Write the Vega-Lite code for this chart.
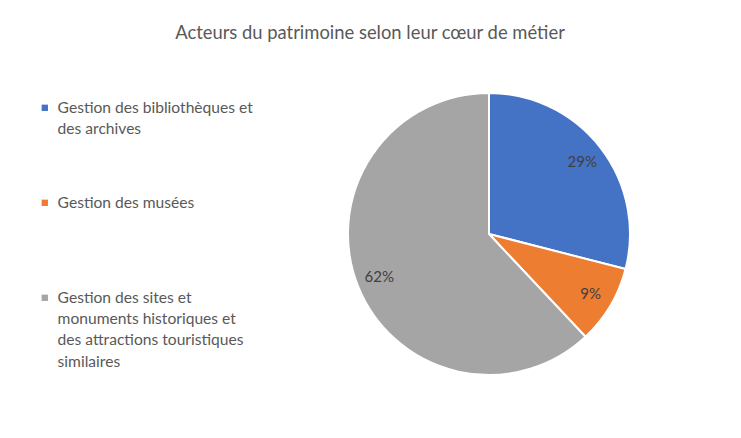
{
  "$schema": "https://vega.github.io/schema/vega-lite/v6.json",
  "width": 504,
  "height": 348,
  "autosize": {"type": "none"},
  "padding": {"left": 237, "top": 60, "right": 0, "bottom": 30},
  "background": "white",
  "title": {
    "text": "Acteurs du patrimoine selon leur cœur de métier",
    "anchor": "middle",
    "dx": -119,
    "offset": 18,
    "font": "Lato",
    "fontSize": 18.4,
    "fontWeight": "normal",
    "color": "#595959"
  },
  "data": {
    "values": [
      {"categorie": "Gestion des bibliothèques et des archives", "part": 0.29},
      {"categorie": "Gestion des musées", "part": 0.09},
      {"categorie": "Gestion des sites et monuments historiques et des attractions touristiques similaires", "part": 0.62}
    ]
  },
  "encoding": {
    "theta": {"field": "part", "type": "quantitative", "stack": true},
    "order": {"field": "categorie", "sort": "ascending"},
    "color": {
      "field": "categorie",
      "type": "nominal",
      "scale": {
        "domain": [
          "Gestion des bibliothèques et des archives",
          "Gestion des musées",
          "Gestion des sites et monuments historiques et des attractions touristiques similaires"
        ],
        "range": ["#4472C4", "#ED7D31", "#A5A5A5"]
      },
      "legend": {
        "orient": "none",
        "legendX": -200,
        "legendY": 40,
        "title": null,
        "symbolType": "square",
        "symbolSize": 40,
        "symbolStrokeWidth": 0,
        "labelFont": "Lato",
        "labelFontSize": 15.6,
        "labelColor": "#595959",
        "labelLimit": 400,
        "labelOffset": 5,
        "labelBaseline": "middle",
        "rowPadding": 57,
        "labelExpr": "datum.label == 'Gestion des bibliothèques et des archives' ? ['Gestion des bibliothèques et', 'des archives'] : datum.label == 'Gestion des musées' ? ['Gestion des musées', ''] : ['Gestion des sites et', 'monuments historiques et', 'des attractions touristiques', 'similaires']",
        "encode": {"labels": {"update": {"lineHeight": {"value": 21.3}}}}
      }
    }
  },
  "layer": [
    {"mark": {"type": "arc", "outerRadius": 141, "stroke": "white", "strokeWidth": 2}},
    {
      "mark": {"type": "text", "radius": 118, "font": "Lato", "fontSize": 15, "fill": "#404040"},
      "encoding": {
        "text": {"field": "part", "type": "quantitative", "format": ".0%"},
        "detail": {"field": "categorie"},
        "color": {"value": "#404040"}
      }
    }
  ],
  "config": {
    "view": {"stroke": null},
    "style": {"guide-label": {"lineHeight": 21.3}}
  }
}
